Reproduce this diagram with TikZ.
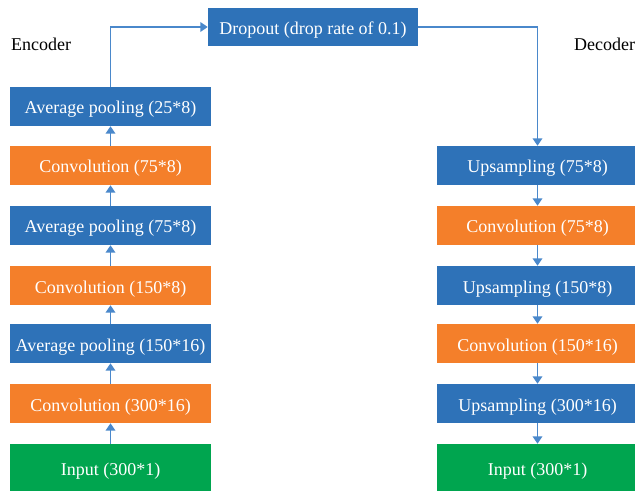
\documentclass[tikz,border=0pt]{standalone}
\usepackage{fontspec}
\setmainfont{Liberation Serif}
\usetikzlibrary{arrows.meta}
\definecolor{bblue}{HTML}{2E72B8}
\definecolor{borange}{HTML}{F47F2A}
\definecolor{bgreen}{HTML}{00A54F}
\definecolor{arrowblue}{HTML}{4A88CB}
\begin{document}
\begin{tikzpicture}[x=1pt,y=-1pt,
  box/.style={minimum width=201pt,minimum height=39pt,inner sep=0pt,text height=15pt,text depth=0pt,text=white,font=\fontsize{18}{20}\selectfont},
  bluebox/.style={box,fill=bblue},
  orangebox/.style={box,fill=borange},
  greenbox/.style={box,fill=bgreen,minimum height=47pt,text height=16pt},
  conn/.style={draw=arrowblue,line width=1.8pt,-{Triangle[width=9.5pt,length=7.5pt]}},
  lbl/.style={anchor=west,inner sep=0pt,font=\fontsize{18}{20}\selectfont}]
\clip (0,0) rectangle (635,492);
\useasboundingbox (0,0) rectangle (635,492);
% encoder
\node[bluebox]   (e6) at (110.5,106.5) {Average pooling (25*8)};
\node[orangebox] (e5) at (110.5,165.5) {Convolution (75*8)};
\node[bluebox]   (e4) at (110.5,225.5) {Average pooling (75*8)};
\node[orangebox] (e3) at (110.5,285.5) {Convolution (150*8)};
\node[bluebox]   (e2) at (110.5,343.5) {Average pooling (150*16)};
\node[orangebox] (e1) at (110.5,403.5) {Convolution (300*16)};
\node[greenbox]  (e0) at (110.5,467.5) {Input (300*1)};
% dropout
\node[box,fill=bblue,minimum width=210pt,minimum height=38pt] (drop) at (313,27) {Dropout (drop rate of 0.1)};
% decoder
\node[bluebox]   (d1) at (537.5,165.5) {Upsampling (75*8)};
\node[orangebox] (d2) at (537.5,225.5) {Convolution (75*8)};
\node[bluebox]   (d3) at (537.5,285.5) {Upsampling (150*8)};
\node[orangebox] (d4) at (537.5,343.5) {Convolution (150*16)};
\node[bluebox]   (d5) at (537.5,403.5) {Upsampling (300*16)};
\node[greenbox]  (d6) at (537.5,467.5) {Input (300*1)};
% labels
\node[lbl] (enc) at (11,44) {Encoder};
\node[lbl] (dec) at (574,44) {Decoder};
% connectors
\draw[conn] (e0) -- (e1);
\draw[conn] (e1) -- (e2);
\draw[conn] (e2) -- (e3);
\draw[conn] (e3) -- (e4);
\draw[conn] (e4) -- (e5);
\draw[conn] (e5) -- (e6);
\draw[conn] (e6.north) |- (drop.west);
\draw[conn] (drop.east) -| (d1.north);
\draw[conn] (d1) -- (d2);
\draw[conn] (d2) -- (d3);
\draw[conn] (d3) -- (d4);
\draw[conn] (d4) -- (d5);
\draw[conn] (d5) -- (d6);
\end{tikzpicture}
\end{document}
